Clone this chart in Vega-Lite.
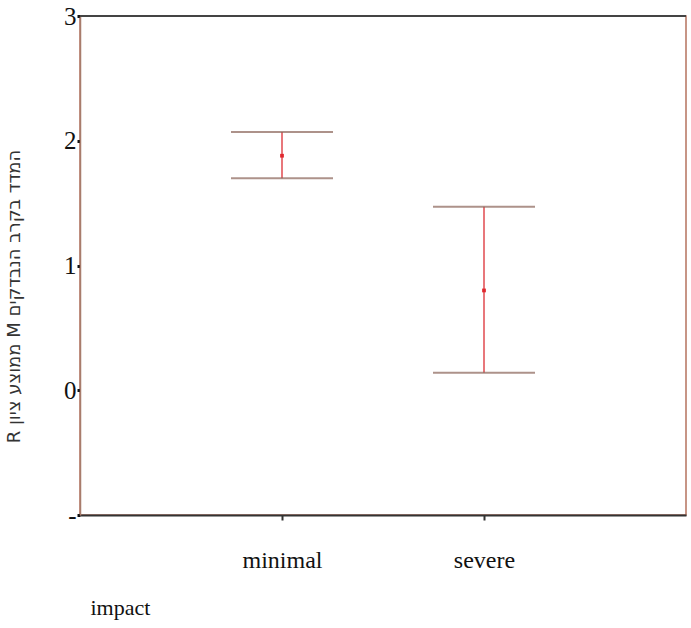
{
  "$schema": "https://vega.github.io/schema/vega-lite/v6.json",
  "width": 606,
  "height": 499,
  "autosize": "none",
  "padding": {"left": 80, "top": 16, "right": 5, "bottom": 113},
  "background": "white",
  "config": {
    "view": {"stroke": "#b5735f", "strokeWidth": 1.5},
    "font": "Liberation Serif"
  },
  "data": {
    "values": [
      {"impact": "minimal", "mean": 1.88, "low": 1.70, "high": 2.07},
      {"impact": "severe", "mean": 0.80, "low": 0.14, "high": 1.47}
    ]
  },
  "encoding": {
    "x": {
      "field": "impact",
      "type": "nominal",
      "scale": {"type": "point", "padding": 1},
      "axis": {
        "labelAngle": 0,
        "labelFont": "Liberation Serif",
        "labelFontSize": 24,
        "labelColor": "#111",
        "labelPadding": 28,
        "domainColor": "#333",
        "domainWidth": 2,
        "tickColor": "#333",
        "tickSize": 5,
        "tickWidth": 2,
        "title": "impact",
        "titleFont": "Liberation Serif",
        "titleFontSize": 22,
        "titleFontWeight": "normal",
        "titleColor": "#111",
        "titleAnchor": "start",
        "titleAlign": "left",
        "titleBaseline": "middle",
        "titleX": 10,
        "titleY": 92
      }
    }
  },
  "layer": [
    {
      "mark": {"type": "rule", "color": "#444", "strokeWidth": 2},
      "encoding": {"x": null, "y": {"datum": 3, "type": "quantitative"}}
    },
    {
      "mark": {"type": "rule", "color": "#e04a4f", "strokeWidth": 1.5},
      "encoding": {
        "y": {
          "field": "low",
          "type": "quantitative",
          "scale": {"domain": [-1, 3], "nice": false, "zero": false},
          "axis": {
            "values": [-1, 0, 1, 2, 3],
            "format": "d",
            "labelExpr": "datum.value == -1 ? '-' : datum.label",
            "grid": false,
            "labelFont": "Liberation Serif",
            "labelFontSize": 25,
            "labelColor": "#111",
            "labelPadding": 1,
            "tickSize": 3,
            "tickWidth": 3,
            "tickColor": "#111",
            "domainColor": "#a87c6c",
            "domainWidth": 1.5,
            "title": "R ממוצע ציון M המדד בקרב הנבדקים",
            "titleFont": "DejaVu Sans",
            "titleFontSize": 18,
            "titleFontWeight": "normal",
            "titleColor": "#333",
            "titleAngle": -90,
            "titleX": -66,
            "titleY": 280,
            "titleBaseline": "middle",
            "titleAlign": "center"
          }
        },
        "y2": {"field": "high"}
      }
    },
    {
      "mark": {"type": "tick", "color": "#8a6459", "size": 102, "thickness": 2},
      "encoding": {"y": {"field": "low", "type": "quantitative"}}
    },
    {
      "mark": {"type": "tick", "color": "#8a6459", "size": 102, "thickness": 2},
      "encoding": {"y": {"field": "high", "type": "quantitative"}}
    },
    {
      "mark": {"type": "square", "color": "#e0282e", "size": 14, "opacity": 1, "filled": true},
      "encoding": {"y": {"field": "mean", "type": "quantitative"}}
    }
  ]
}
